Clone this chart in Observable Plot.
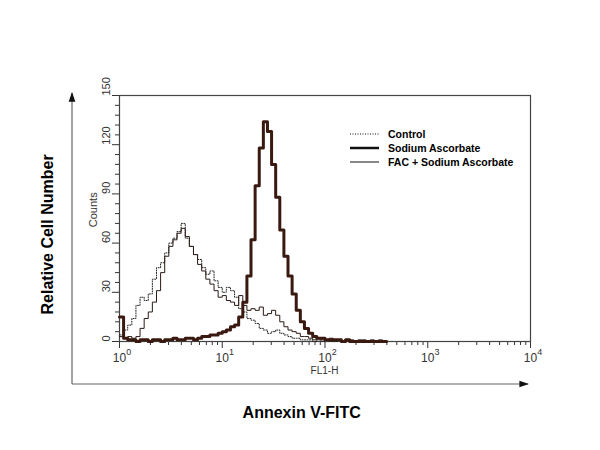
<!DOCTYPE html>
<html><head><meta charset="utf-8">
<script src="https://cdn.jsdelivr.net/npm/d3@7"></script>
<script src="https://cdn.jsdelivr.net/npm/@observablehq/plot@0.6"></script>
<style>body{margin:0;background:#fff;}</style>
</head><body><div id="chart"></div>
<script>
// FL1-H channel start values (log-spaced bins)
const fl1 = [1.00,1.096,1.202,1.318,1.445,1.585,1.738,1.905,2.089,2.291,2.512,2.754,3.020,3.311,3.631,3.981,4.365,4.786,5.248,5.754,6.310,6.918,7.586,8.318,9.120,10.0,10.96,12.02,13.18,14.45,15.85,17.38,19.05,20.89,22.91,25.12,27.54,30.20,33.11,36.31,39.81,43.65,47.86,52.48,57.54,63.10,69.18,75.86,83.18,91.20,100,109.6,120.2,131.8,144.5,158.5,173.8,190.5,208.9,229.1,251.2,275.4,302.0,331.1,363.1,398.1];
const control = [4,7,10,14,22,27,25,29,38,45,48,54,60,63,67,72,63,58,53,50,45,41,43,37,33,30,33,31,27,20,18,14,13,11,8,7,5,6,7,5,4,3,2,2,1,1,1,0,1,0,1,0,0,1,0,0,0,0,0,0,0,0,0,0,0,0];
const sodiumAscorbate = [15,2,1,1,0,1,1,0,1,1,0,1,1,2,1,1,2,2,1,2,3,3,4,4,5,6,7,9,10,15,24,40,62,95,118,134,128,108,88,68,52,40,29,19,12,8,5,3,2,2,1,1,1,1,0,1,0,0,0,0,0,0,0,0,0,0];
const facSodiumAscorbate = [3,2,3,2,3,8,14,18,24,31,42,52,58,62,66,69,64,58,53,47,43,38,35,31,27,28,25,24,22,28,22,19,20,19,21,16,17,19,16,12,9,7,6,5,3,3,2,1,2,1,1,2,1,1,0,1,1,0,1,1,0,1,0,1,0,0];
const seriesNames = ["Control","Sodium Ascorbate","FAC + Sodium Ascorbate"];
const yTicks = [0,30,60,90,120,150];
const yMinor = [6,12,18,24,36,42,48,54,66,72,78,84,96,102,108,114,126,132,138,144];
const xMajor = [1,10,100,1000,10000];
const xExponents = ["0","1","2","3","4"];
const xMinor = [2,3,4,5,6,7,8,9,20,30,40,50,60,70,80,90,200,300,400,500,600,700,800,900,2000,3000,4000,5000,6000,7000,8000,9000];

const rows = (vals, name) => vals.map((c, i) => ({fl1: fl1[i], count: c, series: name}));
const rControl = rows(control, seriesNames[0]);
const rSA = rows(sodiumAscorbate, seriesNames[1]);
const rFAC = rows(facSodiumAscorbate, seriesNames[2]);

const plot = Plot.plot({
  width: 600, height: 450,
  marginLeft: 119, marginRight: 70, marginTop: 95, marginBottom: 109,
  style: {fontFamily: "'Liberation Sans', Arial, sans-serif", background: "#fff", overflow: "visible"},
  x: {type: "log", domain: [1, 10000], label: null},
  y: {domain: [0, 150], label: null},
  marks: [
    Plot.axisY(yMinor, {tickSize: 4, tickFormat: () => "", stroke: "#333"}),
    Plot.axisY(yTicks, {tickSize: 7, tickFormat: () => "", stroke: "#333"}),
    Plot.text(yTicks, {y: d => d, text: d => String(d), frameAnchor: "left", dx: -13, rotate: -90, fontSize: 11, fill: "#333"}),
    Plot.axisX(xMinor, {tickSize: 4, tickFormat: () => "", stroke: "#333"}),
    Plot.axisX(xMajor, {tickSize: 7, tickFormat: () => "", stroke: "#333"}),
    Plot.frame({stroke: "#444", strokeWidth: 1.2}),
    Plot.line(rControl, {x: "fl1", y: "count", curve: "step-after", stroke: "#222", strokeWidth: 1, strokeDasharray: "1,1.5"}),
    Plot.line(rFAC, {x: "fl1", y: "count", curve: "step-after", stroke: "#2a1a14", strokeWidth: 1}),
    Plot.line(rSA, {x: "fl1", y: "count", curve: "step-after", stroke: "#3a1a10", strokeWidth: 3})
  ]
});
document.getElementById("chart").appendChild(plot);

const svg = d3.select(plot);
const xs = plot.scale("x"), ys = plot.scale("y");
const font = "'Liberation Sans', Arial, sans-serif";

// x tick labels with superscripts
xMajor.forEach((v, i) => {
  const t = svg.append("text").attr("x", xs.apply(v) + 3).attr("y", ys.apply(0) + 21)
    .attr("text-anchor", "middle").attr("font-family", font).attr("font-size", 12).attr("fill", "#333");
  t.append("tspan").text("10");
  t.append("tspan").attr("dy", -7).attr("font-size", 9).text(xExponents[i]);
});

// inner axis titles
const x0 = xs.apply(1), x4 = xs.apply(10000), y0 = ys.apply(0), y150 = ys.apply(150);
svg.append("text").attr("x", xs.apply(100)).attr("y", y0 + 33).attr("text-anchor", "middle")
  .attr("font-family", font).attr("font-size", 10).attr("fill", "#333").text("FL1-H");
svg.append("text").attr("transform", `translate(${x0 - 22},${ys.apply(80)}) rotate(-90)`).attr("text-anchor", "middle")
  .attr("font-family", font).attr("font-size", 11).attr("fill", "#333").text("Counts");

// outer arrows
const defs = svg.append("defs");
defs.append("marker").attr("id", "arr").attr("viewBox", "0 0 10 10").attr("refX", 9).attr("refY", 5)
  .attr("markerWidth", 8).attr("markerHeight", 8).attr("orient", "auto")
  .append("path").attr("d", "M0,1.5 L10,5 L0,8.5 Z").attr("fill", "#111");
const ax = x0 - 47, ay = y0 + 43;
svg.append("path").attr("d", `M${ax},${ay} L${ax},${y150 - 2}`).attr("stroke", "#666").attr("stroke-width", 1.2).attr("fill", "none").attr("marker-end", "url(#arr)");
svg.append("path").attr("d", `M${ax},${ay} L${x4 - 2},${ay}`).attr("stroke", "#666").attr("stroke-width", 1.2).attr("fill", "none").attr("marker-end", "url(#arr)");

// outer titles
svg.append("text").attr("transform", `translate(53,${ys.apply(65)}) rotate(-90)`).attr("text-anchor", "middle")
  .attr("font-family", font).attr("font-size", 16).attr("font-weight", "bold").attr("fill", "#000").text("Relative Cell Number");
svg.append("text").attr("x", xs.apply(60)).attr("y", ay + 34).attr("text-anchor", "middle")
  .attr("font-family", font).attr("font-size", 16).attr("font-weight", "bold").attr("fill", "#000").text("Annexin V-FITC");

// legend
const legStyles = [
  {dash: "1,1.5", w: 1}, {dash: null, w: 2.5}, {dash: null, w: 1}
];
seriesNames.forEach((n, i) => {
  const ly = 134 + i * 14;
  const p = svg.append("line").attr("x1", 350).attr("x2", 379).attr("y1", ly).attr("y2", ly)
    .attr("stroke", "#111").attr("stroke-width", legStyles[i].w);
  if (legStyles[i].dash) p.attr("stroke-dasharray", legStyles[i].dash);
  svg.append("text").attr("x", 388).attr("y", ly + 4).attr("text-anchor", "start").attr("font-family", font).attr("font-size", 10.5)
    .attr("font-weight", "bold").attr("fill", "#000").text(n);
});
</script>
</body></html>
